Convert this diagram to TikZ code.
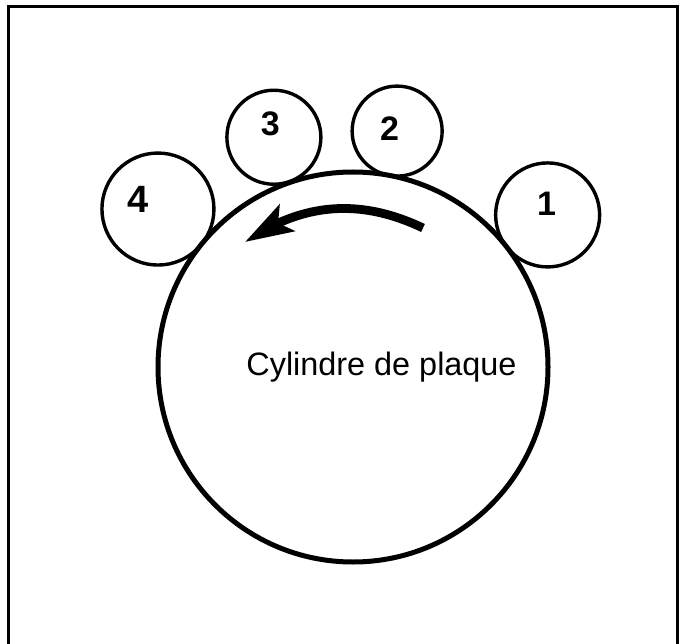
\documentclass[tikz,border=0pt]{standalone}
\usepackage{fontspec}
\setmainfont{Liberation Sans}
\usetikzlibrary{arrows.meta, bending}
\tikzset{
  platecyl/.style={
    circle, draw, line width=2.5pt, minimum size=195pt, inner sep=0pt
  },
  roller/.style={
    circle, draw, line width=1.7pt, inner sep=0pt
  },
  rollnum/.style={font=\fontsize{17}{17}\selectfont\bfseries, inner sep=0pt},
  caption/.style={font=\fontsize{16.2}{18}\selectfont, inner sep=0pt},
  spin/.style={-{Stealth[length=24pt, width=15pt, inset=5pt, flex]}, line width=4.4pt},
  frameline/.style={line width=1.5pt}
}

\begin{document}
\begin{tikzpicture}[x=0.5pt, y=0.5pt]
  \useasboundingbox (0,0) rectangle (679,643);
  \draw[frameline] (8,-20) -- (8,636) -- (677,636) -- (677,-20);

  \node[platecyl] (cyl) at (353,276) {};
  \node[caption, anchor=base] (cap) at ([shift={(28.5,-8.5)}]cyl.center)
    {Cylindre de plaque};

  \node[roller, minimum size=52pt] (r1) at ([shift={(38:247)}]cyl.center) {};
  \node[roller, minimum size=45pt] (r2) at ([shift={(79.4:240)}]cyl.center) {};
  \node[roller, minimum size=47pt] (r3) at ([shift={(109:243)}]cyl.center) {};
  \node[roller, minimum size=56pt] (r4) at ([shift={(141:251)}]cyl.center) {};

  \node[rollnum] (n1) at ([shift={(-1,11)}]r1.center) {1};
  \node[rollnum] (n2) at ([shift={(-7.5,2.5)}]r2.center) {2};
  \node[rollnum] (n3) at ([shift={(-3.5,13)}]r3.center) {3};
  \node[rollnum, font=\fontsize{19}{19}\selectfont\bfseries] (n4)
    at ([shift={(-20,10)}]r4.center) {4};

  \coordinate (spinstart) at (423,415);
  \coordinate (spintip) at (245,401);
  \draw[spin] (spinstart) to[bend right=30] (spintip);
\end{tikzpicture}
\end{document}
